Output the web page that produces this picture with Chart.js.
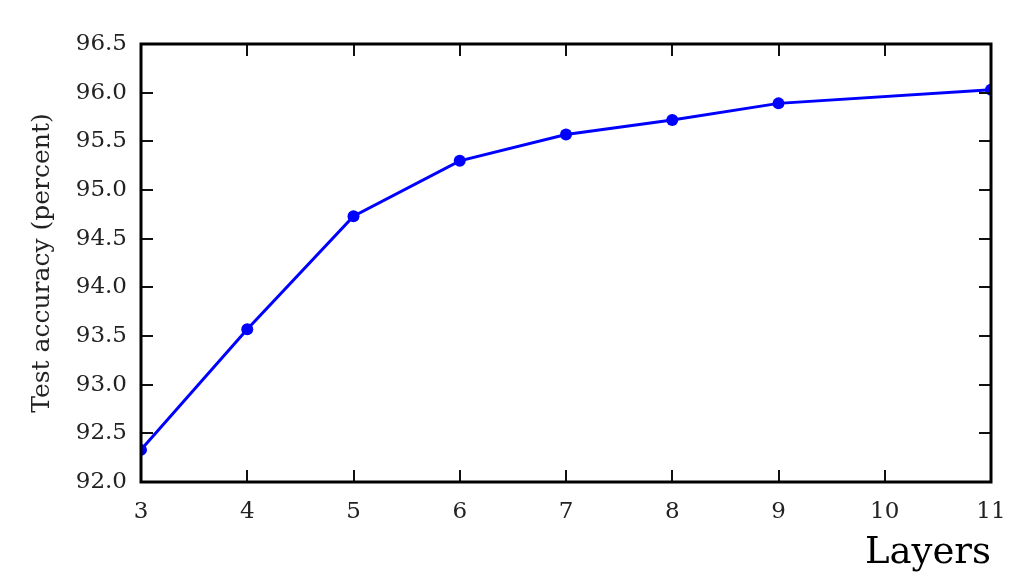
<!DOCTYPE html>
<html>
<head>
<meta charset="utf-8">
<script src="https://cdn.jsdelivr.net/npm/chart.js@4"></script>
<style>
    html, body { margin: 0; padding: 0; background: #fff; }
    #wrap { width: 1026px; height: 582px; }
</style>
</head>
<body>
<div id="wrap"><canvas id="chart1" width="1026" height="582"></canvas></div>
<script>
const layers = [3, 4, 5, 6, 7, 8, 9, 11];
const accuracy = [92.33, 93.57, 94.73, 95.30, 95.57, 95.72, 95.89, 96.03];

const xMin = 3, xMax = 11;
const yMin = 92.0, yMax = 96.5, yStep = 0.5;

const serif = 'DejaVu Serif';

// matplotlib style: inward ticks on all four sides + black frame
const frameTicks = {
    id: 'frameTicks',
    afterDatasetsDraw(chart) {
        const { ctx, chartArea: a, scales } = chart;
        const len = 12;
        ctx.save();
        ctx.strokeStyle = '#111';
        ctx.lineWidth = 2;
        ctx.beginPath();
        scales.x.ticks.forEach(t => {
            const px = Math.round(scales.x.getPixelForValue(t.value));
            ctx.moveTo(px, a.bottom); ctx.lineTo(px, a.bottom - len);
            ctx.moveTo(px, a.top); ctx.lineTo(px, a.top + len);
        });
        scales.y.ticks.forEach(t => {
            const py = Math.round(scales.y.getPixelForValue(t.value));
            ctx.moveTo(a.left, py); ctx.lineTo(a.left + len, py);
            ctx.moveTo(a.right, py); ctx.lineTo(a.right - len, py);
        });
        ctx.stroke();
        ctx.strokeStyle = '#000';
        ctx.lineWidth = 3;
        ctx.strokeRect(a.left, a.top, a.right - a.left, a.bottom - a.top);
        ctx.restore();
    }
};

new Chart(document.getElementById('chart1'), {
    type: 'line',
    data: {
        datasets: [{
            label: 'Test accuracy',
            data: layers.map((l, i) => ({ x: l, y: accuracy[i] })),
            borderColor: '#0000ff',
            backgroundColor: '#0000ff',
            borderWidth: 3,
            pointRadius: 6,
            pointHoverRadius: 6,
            pointBorderWidth: 0,
            tension: 0,
            clip: 0
        }]
    },
    options: {
        responsive: false,
        animation: false,
        devicePixelRatio: 1,
        layout: { padding: { top: 44, right: 35, left: 0, bottom: 0 } },
        plugins: {
            legend: { display: false },
            tooltip: { enabled: false }
        },
        scales: {
            x: {
                type: 'linear',
                min: xMin,
                max: xMax,
                ticks: {
                    stepSize: 1,
                    padding: 16,
                    color: '#222',
                    font: { family: serif, size: 23 }
                },
                grid: { display: false, drawTicks: false },
                border: { display: false },
                title: {
                    display: true,
                    text: 'Layers',
                    align: 'end',
                    color: '#000',
                    font: { family: serif, size: 37 },
                    padding: { top: 0, bottom: 6 }
                },
                afterFit(scale) { scale.height = 100; }
            },
            y: {
                min: yMin,
                max: yMax,
                ticks: {
                    stepSize: yStep,
                    padding: 14,
                    color: '#222',
                    font: { family: serif, size: 23 },
                    callback: v => Number(v).toFixed(1)
                },
                grid: { display: false, drawTicks: false },
                border: { display: false },
                title: {
                    display: true,
                    text: 'Test accuracy (percent)',
                    color: '#222',
                    font: { family: serif, size: 25 },
                    padding: { top: 27, bottom: 0 }
                },
                afterFit(scale) { scale.width = 141; }
            }
        }
    },
    plugins: [frameTicks]
});
</script>
</body>
</html>
